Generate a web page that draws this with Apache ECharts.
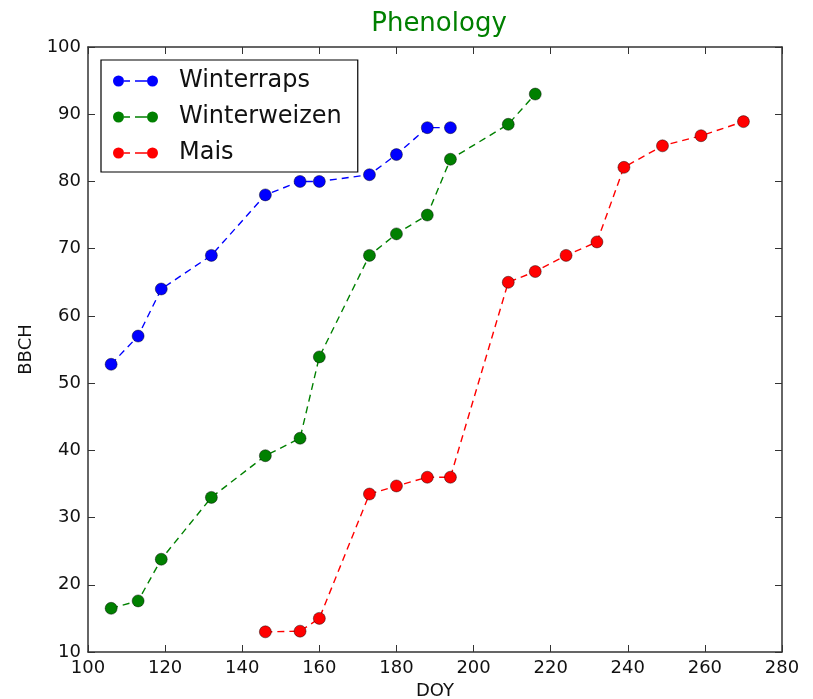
<!DOCTYPE html>
<html>
<head>
<meta charset="utf-8">
<script src="https://cdn.jsdelivr.net/npm/echarts@6/dist/echarts.min.js"></script>
<style>html,body{margin:0;padding:0;background:#fff;}#c{width:813px;height:699px;}</style>
</head>
<body>
<div id="c"></div>
<script>
const titleText = 'Phenology';
const xName = 'DOY';
const yName = 'BBCH';
const seriesNames = ['Winterraps', 'Winterweizen', 'Mais'];

const rapsDoy  = [106, 113, 119, 132, 146, 155, 160, 173, 180, 188, 194];
const rapsBbch = [52.8, 57, 64, 69, 78, 80, 80, 81, 84, 88, 88];

const weizenDoy  = [106, 113, 119, 132, 146, 155, 160, 173, 180, 188, 194, 209, 216];
const weizenBbch = [16.5, 17.6, 23.8, 33, 39.2, 41.8, 53.9, 69, 72.2, 75, 83.3, 88.5, 93];

const maisDoy  = [146, 155, 160, 173, 180, 188, 194, 209, 216, 224, 232, 239, 249, 259, 270];
const maisBbch = [13, 13.1, 15, 33.5, 34.7, 36, 36, 65, 66.6, 69, 71, 82.1, 85.3, 86.8, 88.9];

const xTicks = [100, 120, 140, 160, 180, 200, 220, 240, 260, 280];
const yTicks = [10, 20, 30, 40, 50, 60, 70, 80, 90, 100];

const colors = ['#0000ff', '#008000', '#ff0000'];
const font = 'DejaVu Sans';

function pairs(xs, ys) { return xs.map((x, i) => [x, ys[i]]); }

const legendIcon = 'path://M0,5.5a5.5,5.5 0 1,0 11,0a5.5,5.5 0 1,0 -11,0Z M11,4.7h6v1.6h-6Z M22,4.7h12v1.6h-12Z M34,5.5a5.5,5.5 0 1,0 11,0a5.5,5.5 0 1,0 -11,0Z';

const chart = echarts.init(document.getElementById('c'), null, {renderer: 'canvas'});

const axisLine = {show: true, lineStyle: {color: '#333', width: 1.5}};
const tick = {show: true, inside: true, length: 7, lineStyle: {color: '#333', width: 1}};

function mkSeries(name, xs, ys, color) {
  return {
    name: name, type: 'line', data: pairs(xs, ys),
    symbol: 'circle', symbolSize: 12,
    lineStyle: {type: [7, 5], width: 1.4, color: color},
    itemStyle: {color: color, borderColor: 'rgba(0,0,0,0.55)', borderWidth: 0.8},
    emphasis: {disabled: true}, animation: false, z: 3
  };
}

chart.setOption({
  backgroundColor: '#fff',
  animation: false,
  title: {
    text: titleText, left: 434, top: 6, textAlign: 'center',
    textStyle: {fontFamily: font, fontSize: 26, fontWeight: 'normal', color: '#008000'}
  },
  grid: {left: 88, right: 31, top: 47, bottom: 47, containLabel: false, outerBoundsMode: 'none'},
  legend: {
    orient: 'vertical', left: 101, top: 60,
    data: seriesNames,
    icon: legendIcon, itemWidth: 45, itemHeight: 11,
    itemGap: 12,
    padding: [9, 16, 7, 12],
    borderColor: '#000', borderWidth: 1.2, backgroundColor: '#fff',
    itemStyle: {borderWidth: 0},
    lineStyle: {width: 0},
    textStyle: {fontFamily: font, fontSize: 24, lineHeight: 24, color: '#111', padding: [0, 0, 0, 16]},
    selectedMode: false
  },
  xAxis: [
    {type: 'value', min: xTicks[0], max: xTicks[xTicks.length - 1], interval: 20,
     name: xName, nameLocation: 'middle', nameGap: 29,
     nameTextStyle: {fontFamily: font, fontSize: 18, color: '#111'},
     axisLine: axisLine, axisTick: tick, splitLine: {show: false},
     axisLabel: {fontFamily: font, fontSize: 18, color: '#111', margin: 7}},
    {type: 'value', position: 'top', min: xTicks[0], max: xTicks[xTicks.length - 1], interval: 20,
     axisLine: axisLine, axisTick: tick, splitLine: {show: false}, axisLabel: {show: false}}
  ],
  yAxis: [
    {type: 'value', min: yTicks[0], max: yTicks[yTicks.length - 1], interval: 10,
     name: yName, nameLocation: 'middle', nameGap: 52,
     nameTextStyle: {fontFamily: font, fontSize: 18, color: '#111'},
     axisLine: axisLine, axisTick: tick, splitLine: {show: false},
     axisLabel: {fontFamily: font, fontSize: 18, color: '#111', margin: 7}},
    {type: 'value', position: 'right', min: yTicks[0], max: yTicks[yTicks.length - 1], interval: 10,
     axisLine: axisLine, axisTick: tick, splitLine: {show: false}, axisLabel: {show: false}}
  ],
  series: [
    mkSeries(seriesNames[0], rapsDoy, rapsBbch, colors[0]),
    mkSeries(seriesNames[1], weizenDoy, weizenBbch, colors[1]),
    mkSeries(seriesNames[2], maisDoy, maisBbch, colors[2])
  ]
});
</script>
</body>
</html>
